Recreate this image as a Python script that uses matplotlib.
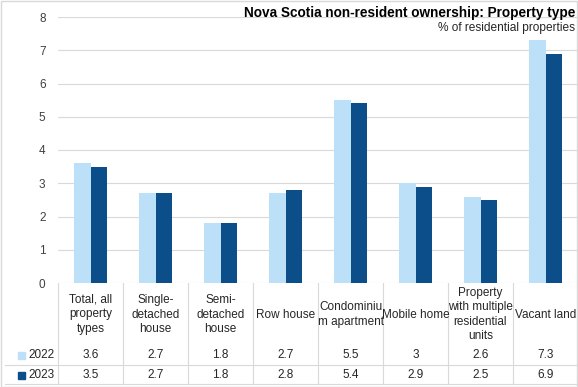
import matplotlib
matplotlib.use('Agg')
import matplotlib.pyplot as plt
from matplotlib.patches import Rectangle

categories = ['Total, all\nproperty\ntypes', 'Single-\ndetached\nhouse', 'Semi-\ndetached\nhouse',
              'Row house', 'Condominiu\nm apartment', 'Mobile home',
              'Property\nwith multiple\nresidential\nunits', 'Vacant land']
values_2022 = [3.6, 2.7, 1.8, 2.7, 5.5, 3, 2.6, 7.3]
values_2023 = [3.5, 2.7, 1.8, 2.8, 5.4, 2.9, 2.5, 6.9]
series_names = ['2022', '2023']
colors = ['#BDE0F9', '#0B4E8A']

plt.rcParams['font.family'] = ['Liberation Sans', 'DejaVu Sans']

W, H = 578, 387
fig = plt.figure(figsize=(W / 100, H / 100), dpi=100)

# plot area in pixels
left, right, top, bottom = 58, 578, 17, 283
ax = fig.add_axes([left / W, 1 - bottom / H, (right - left) / W, (bottom - top) / H])

n = len(categories)
xs = list(range(n))
bw = 0.25
ax.bar([x - bw / 2 for x in xs], values_2022, bw, color=colors[0], zorder=3)
ax.bar([x + bw / 2 for x in xs], values_2023, bw, color=colors[1], zorder=3)
ax.set_xlim(-0.5, n - 0.5)
ax.set_ylim(0, 8)
ax.set_yticks(range(0, 9))
ax.yaxis.grid(True, color='#D9D9D9', linewidth=0.8, zorder=0)
ax.tick_params(axis='y', length=0, pad=9, labelsize=8.5, colors='#404040')
ax.set_xticks([])
for s in ax.spines.values():
    s.set_visible(False)

fig.text(575 / W, 1 - 13 / H, 'Nova Scotia non-resident ownership: Property type',
         ha='right', va='center', fontsize=9.8, fontweight='bold', color='#000000')
fig.text(575 / W, 1 - 28.5 / H, '% of residential properties',
         ha='right', va='center', fontsize=8.6, color='#262626')

# data table below the plot
tab = fig.add_axes([0, 0, 1, 1 - bottom / H])
unit = (right - left) / n
tab.set_xlim(-0.5 - left / unit, n - 0.5)
tab.set_ylim(H, bottom)
tab.axis('off')
line_c = '#D9D9D9'
for i in range(n + 1):
    tab.plot([i - 0.5, i - 0.5], [bottom, 384], color=line_c, lw=0.8)
tab.plot([-0.5 - left / unit + 0.08, n - 0.5], [365, 365], color=line_c, lw=0.8)
tab.plot([-0.5 - left / unit + 0.08, n - 0.5], [384, 384], color=line_c, lw=0.8)
for i, lab in enumerate(categories):
    tab.text(i, 314.5, lab, ha='center', va='center', fontsize=8.5, color='#262626', linespacing=1.28)
    tab.text(i, 355, f'{values_2022[i]:g}', ha='center', va='center', fontsize=8.5, color='#262626')
    tab.text(i, 375, f'{values_2023[i]:g}', ha='center', va='center', fontsize=8.5, color='#262626')
lx = -0.5 - left / unit
for yy, name, c in [(355, series_names[0], colors[0]), (375, series_names[1], colors[1])]:
    tab.add_patch(Rectangle((lx + 18 / unit, yy - 3.5), 7 / unit, 7, color=c))
    tab.text(lx + 28 / unit, yy, name, ha='left', va='center', fontsize=8.5, color='#262626')

fig.patches.append(Rectangle((0.5 / W, 0.5 / H), 1 - 1.5 / W, 1 - 1.5 / H, transform=fig.transFigure,
                             fill=False, edgecolor='#D9D9D9', lw=1))
fig.savefig('out.png', dpi=100)
